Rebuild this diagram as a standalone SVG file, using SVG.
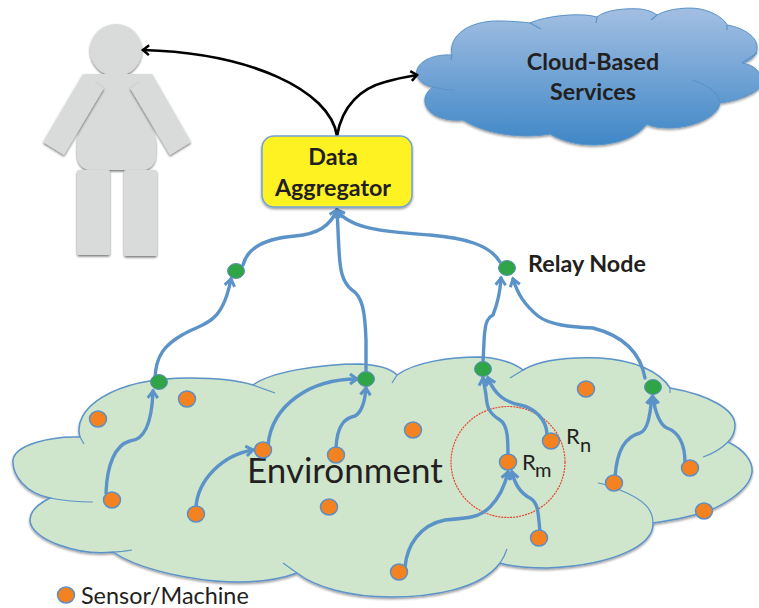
<svg xmlns="http://www.w3.org/2000/svg" width="759" height="608" viewBox="0 0 759 608">
<defs>
<linearGradient id="cg" x1="0" y1="0" x2="0" y2="1"><stop offset="0" stop-color="#a3bfe2"/><stop offset="1" stop-color="#3f87c7"/></linearGradient>
<filter id="sh" x="-10%" y="-10%" width="120%" height="125%"><feDropShadow dx="0" dy="1.5" stdDeviation="1" flood-color="#000" flood-opacity="0.4"/></filter>
<filter id="sp" x="-15%" y="-15%" width="130%" height="130%"><feDropShadow dx="0" dy="1.5" stdDeviation="0.8" flood-color="#000" flood-opacity="0.55"/></filter>
<marker id="ab" markerUnits="userSpaceOnUse" markerWidth="16" markerHeight="16" refX="11" refY="8" orient="auto"><path d="M4,3 L11,8 L4,13" fill="none" stroke="#5b93c9" stroke-width="3"/></marker>
<marker id="ak" markerUnits="userSpaceOnUse" markerWidth="14" markerHeight="14" refX="11" refY="7" orient="auto"><path d="M5,2 L11,7 L5,12" fill="none" stroke="#000" stroke-width="2.5"/></marker>
</defs>
<style>
text{font-family:"Lato","Liberation Sans",sans-serif;fill:#231f20}
.b{font-weight:700;font-size:23.3px;text-anchor:middle}
.s{fill:#f58220;stroke:#5f8fc0;stroke-width:1.5}
.g{fill:#2fa548;stroke:#5f8fc0;stroke-width:1}
.c{fill:none;stroke:#5b93c9;stroke-width:3.4;stroke-linecap:round;marker-end:url(#ab)}
.k{fill:none;stroke:#000;stroke-width:2.7;stroke-linecap:round}
.i{fill:none;stroke:#5b93c9;stroke-width:1.2}
.p{fill:#d9dbdb}
.r{font-size:22px}
.u{font-size:20px}
</style>
<g id="person">
<path class="p" filter="url(#sp)" d="M84,74 H152 L130,88 C145,112 156,125 156,145 V155 C156,163 150,170 143,170 H90 C83,170 77,163 77,155 V145 C77,125 90,110 104,88 Z"/>
<circle class="p" cx="116" cy="50" r="26" filter="url(#sp)"/>
<path class="p" filter="url(#sp)" d="M83,74 L104,88 L64,155 L43,142 Z"/>
<path class="p" filter="url(#sp)" d="M152,74 L130,88 L170,155 L191,142 Z"/>
<path class="p" d="M85,74 H150 V82 H85 Z"/>
<rect class="p" x="77" y="170" width="33" height="85" rx="2" filter="url(#sp)"/>
<rect class="p" x="124" y="170" width="33" height="86" rx="2" filter="url(#sp)"/>
</g>
<g id="cloud-services">
<path filter="url(#sh)" fill="url(#cg)" stroke="#5b93c9" stroke-width="1" d="M452,55 C448,35 470,21 497,21 C510,21 522,22 530,23 C545,16 580,12 597,17 C605,10 625,8 640,9 C648,10 653,12 657,15 C670,8 690,7 700,9 C715,12 725,20 727,25 C745,28 758,38 757,48 C757,55 752,60 742,63 C755,65 762,72 762,85 C755,95 735,101 720,103 C718,118 690,128 670,128 C660,128 652,127 647,124 C635,140 610,145 593,145 C575,145 560,140 550,134 C530,138 490,137 463,120 C440,122 423,112 425,98 C426,93 430,89 433,87 C420,85 415,75 417,70 C420,60 435,54 452,55 Z"/>
<path class="i" d="M452,55 L451,60 M530,23 L541,29 M597,17 L596,23 M657,15 L651,20 M727,25 L727,30 M742,63 L757,53 M720,103 C718,92 708,85 692,80 M433,87 C440,89 447,90 455,90"/>
<text class="b" x="593" y="70">Cloud-Based</text>
<text class="b" x="593" y="100">Services</text>
</g>
<g id="environment">
<path filter="url(#sh)" fill="#cfe5cc" stroke="#5b93c9" stroke-width="1.5" d="M80,437 C72,410 110,378 190,378 C215,378 240,381 253,385 C270,372 320,364 360,364 C380,365 392,370 397,375 C415,362 450,357 480,357 C500,358 515,364 523,370 C540,360 570,357 600,358 C635,360 660,372 670,388 C710,395 735,410 735,425 C735,432 732,438 728,442 C745,450 753,462 752,472 C750,490 720,510 690,516 C675,520 665,521 653,523 C654,545 615,565 547,568 C525,568 510,566 500,563 C480,590 430,597 390,597 C350,597 315,587 297,573 C270,583 240,583 215,581 C175,577 135,567 113,552 C80,556 30,540 30,520 C30,510 40,503 50,498 C25,493 12,475 13,460 C15,445 50,436 80,437 Z"/>
<path class="i" d="M80,437 L84,444 M50,498 C65,501 80,502 93,502 M113,552 C120,552 126,551 132,550 M283,563 L297,573 M253,385 L275,393 M397,375 L392,383 M523,370 L510,378 M670,388 L670,393 M728,442 C720,450 712,454 703,457 M653,523 C653,510 645,500 620,490 C610,486 605,484 598,483 M507,549 C505,555 503,559 500,563"/>
<text x="247" y="483" font-size="35">Environment</text>
</g>
<g id="rm-range"><ellipse cx="508" cy="462" rx="57" ry="55.5" fill="none" stroke="#e8452c" stroke-width="1.2" stroke-dasharray="2 1"/></g>
<g id="connectors">
<path class="k" marker-end="url(#ak)" d="M337,136 C330,90 250,53 143,50"/>
<path class="k" marker-end="url(#ak)" d="M337,136 C342,105 362,88 385,82 C395,79 405,77 417,75"/>
<path class="c" d="M155,378 C156,355 165,345 182,335 C205,322 222,325 231,279"/>
<path class="c" d="M243,265 C248,245 270,238 295,236 C318,234 330,226 337,210"/>
<path class="c" d="M366,372 L366,340 C365,310 362,296 352,290 C342,282 340,270 339,250 C338,235 338,225 337,211"/>
<path class="c" d="M500,262 C490,245 465,238 430,235 C390,232 350,230 337,210"/>
<path class="c" d="M483,362 C484,345 484,335 485,330 C486,320 489,317 493,315 C497,305 500,295 501,278"/>
<path class="c" d="M645,378 C640,350 620,335 593,328 C570,327 550,325 538,316 C525,305 518,295 513,279"/>
<path class="c" d="M508,457 C508,440 508,425 500,420 C487,412 487,405 486,395 C485,388 484,385 483,378"/>
<path class="c" d="M547,435 C547,420 535,408 520,405 C505,402 495,395 488,378"/>
<path class="c" d="M405,567 C407,545 420,525 445,520 C470,518 480,517 490,507 C500,497 505,485 508,472"/>
<path class="c" d="M540,532 C538,510 538,503 530,498 C520,493 515,485 512,472"/>
<path class="c" d="M615,477 C617,450 625,437 640,433 C648,430 650,415 652,397"/>
<path class="c" d="M685,463 C685,442 678,432 667,428 C660,425 655,412 653,397"/>
<path class="c" d="M106,493 C107,465 115,445 130,441 C145,440 152,420 153,391"/>
<path class="c" d="M196,507 C198,480 222,455 253,450"/>
<path class="c" d="M268,445 C272,405 310,379 357,379"/>
<path class="c" d="M336,448 C337,425 345,418 355,416 C362,412 365,400 366,388"/>
</g>
<g id="aggregator"><rect x="262" y="136" width="150" height="71" rx="12" fill="#fff222" stroke="#6fa3d3" stroke-width="1.5" filter="url(#sh)"/>
<text class="b" x="333" y="165">Data</text><text class="b" x="333" y="196">Aggregator</text></g>
<g id="relay-1"><ellipse class="g" cx="236" cy="271" rx="8.5" ry="7.5"/></g>
<g id="relay-2"><ellipse class="g" cx="159" cy="382" rx="8.5" ry="7.5"/></g>
<g id="relay-3"><ellipse class="g" cx="366" cy="379" rx="8.5" ry="7.5"/></g>
<g id="relay-4"><ellipse class="g" cx="483" cy="369" rx="8.5" ry="7.5"/></g>
<g id="relay-5"><ellipse class="g" cx="653" cy="387" rx="8.5" ry="7.5"/></g>
<g id="relay-6"><ellipse class="g" cx="507" cy="268" rx="8.5" ry="7.5"/><text x="528" y="272" font-size="23.3" font-weight="700">Relay Node</text></g>
<g id="sensors">
<ellipse class="s" cx="98" cy="419" rx="8.5" ry="8"/>
<ellipse class="s" cx="187" cy="399" rx="8.5" ry="8"/>
<ellipse class="s" cx="112" cy="500" rx="8.5" ry="8"/>
<ellipse class="s" cx="196" cy="514" rx="8.5" ry="8"/>
<ellipse class="s" cx="263" cy="450" rx="8.5" ry="8"/>
<ellipse class="s" cx="336" cy="455" rx="8.5" ry="8"/>
<ellipse class="s" cx="329" cy="507" rx="8.5" ry="8"/>
<ellipse class="s" cx="413" cy="430" rx="8.5" ry="8"/>
<ellipse class="s" cx="539" cy="538" rx="8.5" ry="8"/>
<ellipse class="s" cx="399" cy="572" rx="8.5" ry="8"/>
<ellipse class="s" cx="586" cy="389" rx="8.5" ry="8"/>
<ellipse class="s" cx="614" cy="483" rx="8.5" ry="8"/>
<ellipse class="s" cx="690" cy="468" rx="8.5" ry="8"/>
<ellipse class="s" cx="704" cy="511" rx="8.5" ry="8"/>
</g>
<g id="sensor-rm"><ellipse class="s" cx="508" cy="462" rx="8.5" ry="8"/><text class="r" x="522" y="470">R</text><text class="u" x="535" y="477">m</text></g>
<g id="sensor-rn"><ellipse class="s" cx="551" cy="441" rx="8.5" ry="8"/><text class="r" x="566" y="444">R</text><text class="u" x="580" y="452">n</text></g>
<g id="legend"><ellipse class="s" cx="66" cy="595" rx="8.5" ry="8"/><text x="81" y="604" font-size="23.4">Sensor/Machine</text></g>
</svg>
